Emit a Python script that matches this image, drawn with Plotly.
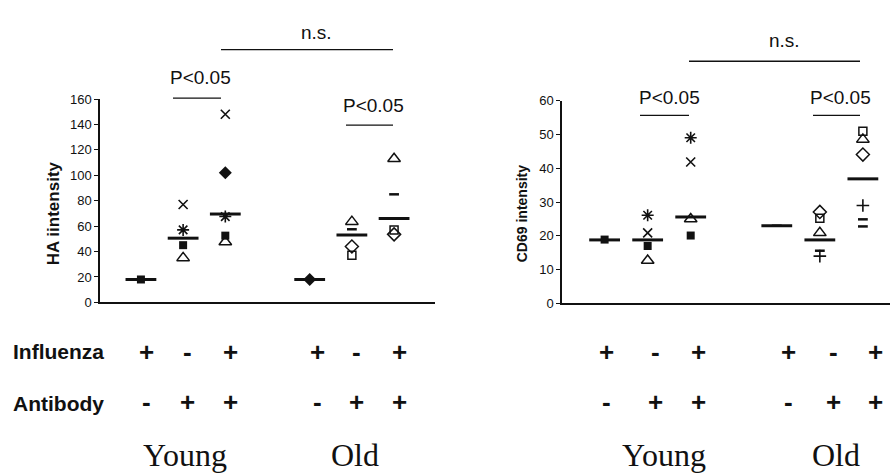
import plotly.graph_objects as go

# ---------------------------------------------------------------- data
# Column order: Young (Inf+/Ab-, Inf-/Ab+, Inf+/Ab+), Old (same three)
positions = [1, 2, 3, 5, 6, 7]
influenza = ["+", "-", "+", "+", "-", "+"]
antibody = ["-", "+", "+", "-", "+", "+"]
age_groups = ["Young", "Old"]

# HA intensity, one list per donor symbol (None = no point in that column)
ha_mean = [18, 50.5, 69.5, 18, 53, 66]
ha_square = [18, 45, 52.5, None, None, None]
ha_cross = [None, 77, 148, None, None, None]
ha_star = [None, 57, 67.5, None, None, None]
ha_triangle = [None, 35, 47.5, None, 63.5, 113]
ha_diamond = [None, None, 102, 18, None, None]
ha_diamond_open = [None, None, None, None, 44, 53.5]
ha_square_open = [None, None, None, None, 37, 57]
ha_dash = [None, None, None, None, 57.5, 85]

# CD69 intensity
cd_mean = [18.8, 18.8, 25.6, 23, 18.8, 36.9]
cd_square = [18.9, 17, 20.1, None, None, None]
cd_cross = [None, 20.9, 41.9, None, None, None]
cd_star = [None, 26.1, 49.1, None, None, None]
cd_triangle = [None, 12.7, 25, None, 20.9, 48.6]
cd_square_open = [None, None, None, None, 25.2, 51]
cd_diamond_open = [None, None, None, None, 27.1, 44.1]
cd_plus = [None, None, None, None, 14, 29]
cd_dash = [None, None, None, 23, 15.6, 24.9]
cd_dash_low = [None, None, None, None, None, 22.8]

# ---------------------------------------------------------------- styles
W, H = 894, 475
INK = "#111111"


def fx(px):
    return px / W


def fy(py):
    return 1 - py / H


STYLES = {
    "square": dict(symbol="square", size=8, color=INK, line=dict(width=0)),
    "cross": dict(symbol="x-thin-open", size=9, color=INK, line=dict(width=1.6, color=INK)),
    "star": dict(symbol="asterisk-open", size=10, color=INK, line=dict(width=1.6, color=INK)),
    "triangle": dict(symbol="triangle-up-open", size=11, color=INK, line=dict(width=1.5, color=INK)),
    "diamond": dict(symbol="diamond", size=10, color=INK, line=dict(width=0)),
    "diamond_open": dict(symbol="diamond-open", size=10, color=INK, line=dict(width=1.5, color=INK)),
    "square_open": dict(symbol="square-open", size=8, color=INK, line=dict(width=1.5, color=INK)),
    "dash": dict(symbol="line-ew-open", size=7, color=INK, line=dict(width=2.5, color=INK)),
    "plus": dict(symbol="cross-thin-open", size=9, color=INK, line=dict(width=1.6, color=INK)),
    "mean": dict(symbol="line-ew-open", size=22, color=INK, line=dict(width=3, color=INK)),
}

fig = go.Figure()


def add_series(values, style, xa, ya):
    xs = [p for p, v in zip(positions, values) if v is not None]
    ys = [v for v in values if v is not None]
    fig.add_trace(go.Scatter(
        x=xs, y=ys, mode="markers", marker=STYLES[style],
        xaxis=xa, yaxis=ya, cliponaxis=False, showlegend=False,
        hoverinfo="y",
    ))


for vals, st in [(ha_mean, "mean"), (ha_square, "square"), (ha_cross, "cross"),
                 (ha_star, "star"), (ha_triangle, "triangle"), (ha_diamond, "diamond"),
                 (ha_diamond_open, "diamond_open"), (ha_square_open, "square_open"),
                 (ha_dash, "dash")]:
    add_series(vals, st, "x", "y")

for vals, st in [(cd_mean, "mean"), (cd_square, "square"), (cd_cross, "cross"),
                 (cd_star, "star"), (cd_triangle, "triangle"),
                 (cd_square_open, "square_open"), (cd_diamond_open, "diamond_open"),
                 (cd_plus, "plus"), (cd_dash, "dash"), (cd_dash_low, "dash")]:
    add_series(vals, st, "x2", "y2")

# ---------------------------------------------------------------- axes
common_x = dict(showgrid=False, zeroline=False, showticklabels=False, ticks="",
                showline=True, linecolor=INK, linewidth=1.5, fixedrange=True)
common_y = dict(showgrid=False, zeroline=False, ticks="outside", ticklen=4,
                tickwidth=1, tickcolor=INK, showline=True, linecolor=INK,
                linewidth=1.5, tick0=0,
                tickfont=dict(family="Liberation Sans Narrow, Liberation Sans, Arial",
                              size=13, color=INK))

fig.update_layout(
    width=W, height=H,
    margin=dict(l=0, r=0, t=0, b=0),
    paper_bgcolor="white", plot_bgcolor="white",
    xaxis=dict(domain=[fx(100), fx(435)], range=[0.03, 7.97], anchor="y", **common_x),
    yaxis=dict(domain=[fy(305), fy(95)], range=[0, 160], dtick=20, anchor="x", **common_y),
    xaxis2=dict(domain=[fx(562), fx(890)], range=[0.01, 7.63], anchor="y2", **common_x),
    yaxis2=dict(domain=[fy(306), fy(97)], range=[0, 60], dtick=10, anchor="x2", **common_y),
)

# ---------------------------------------------------------------- text
annotations = []
shapes = []


def text(px, py, s, size, family="Liberation Sans, Arial", bold=False,
         xanchor="center", angle=0):
    annotations.append(dict(
        x=fx(px), y=fy(py), xref="paper", yref="paper", text=f"<b>{s}</b>" if bold else s,
        showarrow=False, xanchor=xanchor, yanchor="middle", textangle=angle,
        font=dict(family=family, size=size, color=INK),
    ))


def hline(x0, x1, py):
    shapes.append(dict(type="line", xref="paper", yref="paper",
                       x0=fx(x0), x1=fx(x1), y0=fy(py), y1=fy(py),
                       line=dict(color=INK, width=1.3)))


# axis titles
text(53, 213, "HA iintensity", 17, bold=True, angle=-90)
text(522, 214, "CD69 intensity", 14, bold=True, angle=-90)

# significance brackets
text(316, 26, "n.s.", 19)
hline(221, 393, 44)
text(200, 73, "P&lt;0.05", 19)
hline(173, 221, 94)
text(373, 102, "P&lt;0.05", 19)
hline(346, 393, 122)

text(784, 35, "n.s.", 19)
hline(689, 860, 56)
text(669, 93, "P&lt;0.05", 19)
hline(640, 689, 112)
text(840, 93, "P&lt;0.05", 19)
hline(813, 860, 112)

# treatment rows
text(11, 356, "Influenza", 21, bold=True, xanchor="left")
text(11, 409, "Antibody", 21, bold=True, xanchor="left")

sign_px_left = [146, 187, 230, 317, 356, 399]
sign_px_right = [606, 655, 698, 788, 833, 875]
for xs in (sign_px_left, sign_px_right):
    for px, inf, ab in zip(xs, influenza, antibody):
        text(px, 356, inf, 26, bold=True)
        text(px, 408, ab, 26, bold=True)

# age group labels
for px, label in zip([185, 355, 664, 836], age_groups * 2):
    text(px, 463, label, 32, family="Liberation Serif, Times New Roman, serif")

fig.update_layout(annotations=annotations, shapes=shapes)

fig.write_html("out.html")
